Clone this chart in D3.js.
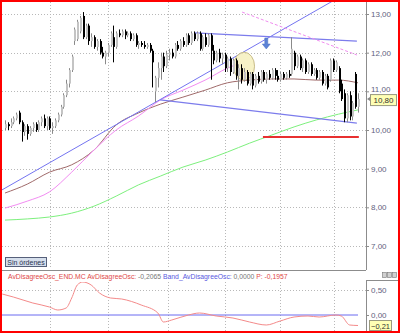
<!DOCTYPE html>
<html lang="es">
<head>
    <meta charset="utf-8">
    <script type="text/javascript" src="https://d3js.org/d3.v7.min.js"></script>
    <title>END.MC - AvDisagreeOsc</title>
    <style>
        html, body { margin: 0; padding: 0; background: #fff; }
        svg { display: block; font-family: "Liberation Sans", Arial, sans-serif; }
    </style>
</head>
<body>
<div id="chart"></div>
<script type="text/javascript">

    /* ---------- DATA ---------- */

    // daily candles (index 0 = first visible session)
    const opens = [
        10.05,10.15,10.10,10.20,10.30,10.45,10.20,9.95,10.10,9.90,
        10.05,10.15,10.00,10.20,10.30,10.10,10.30,10.05,10.10,10.25,
        10.40,10.60,10.90,11.20,11.55,12.30,12.35,12.55,12.95,12.40,
        12.70,12.30,12.40,12.15,12.30,12.00,11.90,12.00,12.20,12.40,
        12.15,12.50,12.45,12.55,12.45,12.50,12.35,12.45,12.20,12.25,
        12.20,12.15,12.20,12.05,11.00,11.35,11.60,11.90,11.65,11.95,
        12.00,11.90,12.20,12.10,12.30,12.20,12.45,12.25,12.50,12.35,
        12.50,12.10,12.40,12.20,12.45,12.05,11.80,12.00,11.85,11.95,
        11.60,11.85,11.50,11.80,11.40,11.60,11.30,11.50,11.20,11.45,
        11.15,11.40,11.25,11.50,11.30,11.45,11.35,11.55,11.40,11.30,
        11.45,11.35,11.45,11.45,12.00,11.65,11.90,11.60,11.80,11.50,
        11.70,11.45,11.55,11.35,11.50,11.20,11.40,11.30,11.80,11.55,
        11.60,11.20,10.95,10.30,10.90,10.35,11.45,10.60];
    const highs = [
        10.25,10.20,10.30,10.35,10.45,10.50,10.25,10.15,10.15,10.10,
        10.20,10.20,10.25,10.35,10.40,10.35,10.35,10.20,10.30,10.45,
        10.65,10.95,11.30,11.60,11.95,12.65,12.85,12.95,13.05,12.75,
        12.75,12.50,12.45,12.35,12.35,12.15,12.05,12.25,12.55,12.70,
        12.55,12.60,12.60,12.60,12.55,12.55,12.50,12.50,12.30,12.30,
        12.30,12.25,12.25,12.10,11.40,11.75,12.00,12.00,12.05,12.10,
        12.10,12.25,12.30,12.35,12.40,12.50,12.50,12.55,12.55,12.55,
        12.55,12.45,12.50,12.50,12.50,12.20,12.05,12.10,12.00,12.00,
        11.90,11.90,11.85,11.85,11.70,11.70,11.60,11.55,11.50,11.50,
        11.45,11.50,11.55,11.55,11.50,11.55,11.60,11.60,11.55,11.50,
        11.50,11.50,11.55,12.40,12.05,11.95,11.95,11.85,11.85,11.75,
        11.75,11.60,11.60,11.55,11.55,11.45,11.45,11.85,11.85,11.80,
        11.65,11.30,11.05,10.95,11.00,10.75,11.50,10.95];
    const lows = [
        10.00,10.00,10.05,10.15,10.25,10.15,9.70,9.85,9.75,9.85,
        9.95,9.95,9.95,10.10,10.05,10.00,10.00,9.90,10.05,10.20,
        10.35,10.55,10.85,11.10,11.50,12.20,12.30,12.50,12.35,12.35,
        12.20,12.15,12.10,12.05,11.95,11.85,11.70,11.90,12.15,11.75,
        12.10,12.40,12.40,12.35,12.40,12.30,12.30,12.15,12.10,12.15,
        12.10,12.10,12.00,11.10,10.72,11.10,11.30,11.50,11.60,11.80,
        11.85,11.85,12.05,12.05,12.15,12.15,12.20,12.20,12.30,12.30,
        12.05,12.05,12.15,12.15,11.30,11.70,11.75,11.75,11.70,11.50,
        11.50,11.40,11.45,11.30,11.05,11.20,11.25,11.15,11.15,11.05,
        11.10,11.20,11.20,11.25,11.20,11.30,11.30,11.30,11.25,11.25,
        11.30,11.30,11.35,11.40,11.55,11.60,11.55,11.50,11.45,11.45,
        11.40,11.40,11.30,11.30,11.15,11.15,11.05,11.25,11.50,11.50,
        10.95,10.75,10.20,10.20,10.25,10.25,10.55,10.45];
    const closes = [
        10.15,10.10,10.20,10.30,10.40,10.20,9.95,10.10,9.90,10.05,
        10.15,10.00,10.20,10.30,10.10,10.30,10.05,10.10,10.25,10.40,
        10.60,10.90,11.20,11.55,11.90,12.60,12.80,12.90,12.40,12.70,
        12.30,12.40,12.15,12.30,12.00,11.90,12.00,12.20,12.50,12.15,
        12.50,12.45,12.55,12.45,12.50,12.35,12.45,12.20,12.25,12.20,
        12.15,12.20,12.05,11.75,11.35,11.60,11.90,11.65,11.95,12.00,
        11.90,12.20,12.10,12.30,12.20,12.45,12.25,12.50,12.35,12.50,
        12.10,12.40,12.20,12.45,12.05,11.80,12.00,11.85,11.95,11.60,
        11.85,11.50,11.80,11.40,11.60,11.30,11.50,11.20,11.45,11.15,
        11.40,11.25,11.50,11.30,11.45,11.35,11.55,11.40,11.30,11.45,
        11.35,11.45,11.40,12.10,11.65,11.90,11.60,11.80,11.50,11.70,
        11.45,11.55,11.35,11.50,11.20,11.40,11.10,11.80,11.55,11.75,
        11.00,10.80,10.30,10.90,10.35,10.70,10.60,10.80];

    // moving averages, sampled at these candle indexes
    const maIdx   = [0, 8, 16, 24, 32, 40, 48, 56, 64, 72, 80, 88, 96, 104, 112, 120, 127];
    const brownMA = [8.37, 8.60, 8.91, 9.10, 9.48, 10.13, 10.44, 10.67, 10.85, 11.03, 11.22, 11.29, 11.32, 11.32, 11.29, 11.29, 11.22];
    const greenMA = [7.67, 7.70, 7.75, 7.85, 8.03, 8.29, 8.58, 8.81, 9.04, 9.22, 9.43, 9.66, 9.87, 10.08, 10.26, 10.41, 10.52];
    const pinkIdx = [0, 8, 16, 24, 32, 40, 48, 56, 64, 72, 80, 84];
    const pinkMA  = [7.98, 8.16, 8.40, 8.91, 9.48, 10.00, 10.36, 10.78, 11.03, 11.29, 11.60, 11.71];

    // drawn trend lines: [index, price] pairs
    const trendUp      = [[-1.1, 8.45], [118, 13.34]];
    const channelTop   = [[68.3, 12.51], [126.6, 12.30]];
    const channelBot   = [[55.8, 10.78], [126.6, 10.18]];
    const resistDashed = [[85.3, 13.05], [126.6, 11.94]];
    const supportRed   = [[92.8, 9.82], [127.3, 9.82]];

    // annotations
    const circleAt = [86, 11.65];
    const arrowAt  = [94, 12.38];

    // month separators (candle index) and price ticks
    const gridIdx    = [16.2, 37, 58.6, 79.1, 98.8, 118.3];
    const priceTicks = [7, 8, 9, 10, 11, 12, 13];
    const oscTicks   = [0, 0.5];

    // AvDisagreeOsc
    const oscIdx = [-1, 3, 10, 16, 19, 22, 24, 26, 28, 31, 34, 38, 42, 49, 55, 57, 60, 66, 70, 76,
                    82, 88, 94, 99, 104, 109, 113, 119, 121, 124, 127];
    const oscVal = [0.42, 0.36, 0.24, 0.16, 0.10, 0.14, 0.34, 0.60, 0.66, 0.60, 0.44, 0.34, 0.32, 0.20, 0.04, -0.14, -0.10, 0.0, 0.04, -0.02,
                    -0.06, -0.14, -0.20, -0.12, -0.04, -0.02, -0.04, 0.0, -0.02, -0.20, -0.21];
    const oscBand = 0;

    /* ---------- SETUP ---------- */

    const W = 400, H = 333;
    const plotRight = 366;      // x of the price axis line
    const mainTop = 2, mainBottom = 269;
    const oscTop = 282, oscBottom = 331;

    const svg = d3.select("#chart")
        .append("svg")
            .attr("width", W)
            .attr("height", H)
            .style("background", "#fff");

    const x = d3.scaleLinear().domain([0, closes.length - 1]).range([5, 358]);
    const y = d3.scaleLinear().domain([7, 13]).range([246, 14]);
    const yOsc = d3.scaleLinear().domain([0, 0.5]).range([315, 290]);

    const fmt = d => d3.format(".2f")(d).replace(".", ",");

    svg.append("clipPath").attr("id", "clipMain")
        .append("rect").attr("x", 2).attr("y", mainTop).attr("width", plotRight - 2).attr("height", mainBottom - mainTop);
    svg.append("clipPath").attr("id", "clipOsc")
        .append("rect").attr("x", 2).attr("y", oscTop).attr("width", plotRight - 2).attr("height", oscBottom - oscTop);

    /* ---------- GRID ---------- */

    const grid = svg.append("g").attr("stroke", "#b8b8b8").attr("stroke-dasharray", "1,2");
    grid.selectAll(".hg").data(priceTicks).join("line")
        .attr("x1", 2).attr("x2", plotRight)
        .attr("y1", d => Math.round(y(d)) + 0.5).attr("y2", d => Math.round(y(d)) + 0.5);
    grid.selectAll(".vg").data(gridIdx).join("line")
        .attr("x1", d => Math.round(x(d)) + 0.5).attr("x2", d => Math.round(x(d)) + 0.5)
        .attr("y1", mainTop).attr("y2", mainBottom);
    grid.selectAll(".vg2").data(gridIdx).join("line")
        .attr("x1", d => Math.round(x(d)) + 0.5).attr("x2", d => Math.round(x(d)) + 0.5)
        .attr("y1", oscTop).attr("y2", oscBottom);
    grid.append("line")
        .attr("x1", 2).attr("x2", plotRight)
        .attr("y1", Math.round(yOsc(0.5)) + 0.5).attr("y2", Math.round(yOsc(0.5)) + 0.5);

    /* ---------- MAIN PANEL ---------- */

    const main = svg.append("g").attr("clip-path", "url(#clipMain)");

    const maLine = idx => d3.line()
        .x((d, i) => x(idx[i]))
        .y(d => y(d))
        .curve(d3.curveMonotoneX);

    main.append("path").datum(greenMA).attr("d", maLine(maIdx))
        .attr("fill", "none").attr("stroke", "#7df07d").attr("stroke-width", 1);
    main.append("path").datum(brownMA).attr("d", maLine(maIdx))
        .attr("fill", "none").attr("stroke", "#a06a6a").attr("stroke-width", 1);
    main.append("path").datum(pinkMA).attr("d", maLine(pinkIdx))
        .attr("fill", "none").attr("stroke", "#f28cf2").attr("stroke-width", 1);

    const seg = d3.line().x(d => x(d[0])).y(d => y(d[1]));
    main.append("path").datum(trendUp).attr("d", seg)
        .attr("fill", "none").attr("stroke", "#7474f0").attr("stroke-width", 1);
    main.append("path").datum(channelTop).attr("d", seg)
        .attr("fill", "none").attr("stroke", "#7c7cec").attr("stroke-width", 1.2);
    main.append("path").datum(channelBot).attr("d", seg)
        .attr("fill", "none").attr("stroke", "#7c7cec").attr("stroke-width", 1.2);
    main.append("path").datum(resistDashed).attr("d", seg)
        .attr("fill", "none").attr("stroke", "#f08cf0").attr("stroke-width", 1).attr("stroke-dasharray", "3,2");
    main.append("path").datum(supportRed).attr("d", seg)
        .attr("fill", "none").attr("stroke", "#e83030").attr("stroke-width", 2);

    // highlighted zone
    main.append("ellipse")
        .attr("cx", x(circleAt[0])).attr("cy", y(circleAt[1]))
        .attr("rx", 10.5).attr("ry", 14)
        .attr("fill", "#f4eeb4").attr("fill-opacity", 0.75)
        .attr("stroke", "#c8bc8a").attr("stroke-width", 1);

    // candles
    const candles = d3.range(closes.length).map(i => ({ i, o: opens[i], h: highs[i], l: lows[i], c: closes[i] }));
    const cg = main.append("g");
    cg.selectAll(".wick").data(candles).join("line")
        .attr("x1", d => Math.round(x(d.i)) + 0.5).attr("x2", d => Math.round(x(d.i)) + 0.5)
        .attr("y1", d => y(d.h)).attr("y2", d => y(d.l))
        .attr("stroke", d => d.c >= d.o ? "#8a8a8a" : "#000");
    cg.selectAll(".body").data(candles).join("rect")
        .attr("x", d => Math.round(x(d.i)))
        .attr("width", 2)
        .attr("y", d => y(Math.max(d.o, d.c)))
        .attr("height", d => Math.max(1, Math.abs(y(d.o) - y(d.c))))
        .attr("fill", d => d.c >= d.o ? "#c4c4c4" : "#000");

    // blue arrow
    const ax = x(arrowAt[0]), ay = y(arrowAt[1]);
    main.append("path")
        .attr("d", `M${ax - 1.5},${ay} h3 v6 h2.5 l-4,5 l-4,-5 h2.5 z`)
        .attr("fill", "#5c82d6").attr("stroke", "#4a6ec0").attr("stroke-width", 0.5);

    /* ---------- PRICE AXIS ---------- */

    svg.append("line")
        .attr("x1", plotRight + 0.5).attr("x2", plotRight + 0.5)
        .attr("y1", 0).attr("y2", 270)
        .attr("stroke", "#8c8c8c");

    const axisMain = svg.append("g")
        .attr("transform", `translate(${plotRight},0)`)
        .call(d3.axisRight(y).tickValues(priceTicks).tickSize(3).tickPadding(2).tickFormat(fmt));
    axisMain.select(".domain").remove();
    axisMain.selectAll("line").attr("stroke", "#8c8c8c");
    axisMain.selectAll("text").attr("fill", "#62627e").style("font-size", "8px");
    // the 11,00 label sits just above the last-price box
    axisMain.selectAll("text").filter(d => d === 11).attr("dy", "0.05em");

    // last price box
    const lastY = y(closes[closes.length - 1]);
    svg.append("path")
        .attr("d", `M367,${lastY} l3,-2 v4 z`).attr("fill", "#888");
    svg.append("rect")
        .attr("x", 370.5).attr("y", lastY - 4.5).attr("width", 26).attr("height", 11)
        .attr("fill", "#ffffb4").attr("stroke", "#9a9a80");
    svg.append("text")
        .attr("x", 383.5).attr("y", lastY + 4)
        .attr("text-anchor", "middle").attr("fill", "#333").style("font-size", "8px")
        .text(fmt(closes[closes.length - 1]));

    // "Sin órdenes" button
    svg.append("rect")
        .attr("x", 5.5).attr("y", 257.5).attr("width", 41).attr("height", 9)
        .attr("fill", "#d6dfec").attr("stroke", "#56607a");
    svg.append("text")
        .attr("x", 26).attr("y", 265)
        .attr("text-anchor", "middle").attr("fill", "#2a3350").style("font-size", "7px")
        .text("Sin órdenes");

    // panel divider
    svg.append("line")
        .attr("x1", 0).attr("x2", plotRight).attr("y1", 270.5).attr("y2", 270.5)
        .attr("stroke", "#8c8c8c");

    /* ---------- OSCILLATOR PANEL ---------- */

    const osc = svg.append("g").attr("clip-path", "url(#clipOsc)");
    osc.append("line")
        .attr("x1", 2).attr("x2", x(closes.length - 1))
        .attr("y1", yOsc(oscBand)).attr("y2", yOsc(oscBand))
        .attr("stroke", "#6a6af0").attr("stroke-width", 1);
    osc.append("path")
        .datum(oscVal)
        .attr("d", d3.line().x((d, i) => x(oscIdx[i])).y(d => yOsc(d)).curve(d3.curveMonotoneX))
        .attr("fill", "none").attr("stroke", "#f48a8a").attr("stroke-width", 1);

    // oscillator title
    const title = svg.append("text").attr("x", 8).attr("y", 279).style("font-size", "6.8px");
    title.append("tspan").attr("fill", "#e04848").text("AvDisagreeOsc_END.MC  AvDisagreeOsc: ");
    title.append("tspan").attr("fill", "#777").text("-0,2065  ");
    title.append("tspan").attr("fill", "#5858e0").text("Band_AvDisagreeOsc: ");
    title.append("tspan").attr("fill", "#777").text("0,0000  ");
    title.append("tspan").attr("fill", "#e04848").text("P: -0,1957");

    // oscillator axis
    svg.append("line")
        .attr("x1", plotRight + 0.5).attr("x2", plotRight + 0.5).attr("y1", 280).attr("y2", H)
        .attr("stroke", "#8c8c8c");
    svg.append("line")
        .attr("x1", plotRight).attr("x2", W).attr("y1", 280.5).attr("y2", 280.5)
        .attr("stroke", "#8c8c8c");
    const axisOsc = svg.append("g")
        .attr("transform", `translate(${plotRight},0)`)
        .call(d3.axisRight(yOsc).tickValues(oscTicks).tickSize(3).tickPadding(2).tickFormat(fmt));
    axisOsc.select(".domain").remove();
    axisOsc.selectAll("line").attr("stroke", "#8c8c8c");
    axisOsc.selectAll("text").attr("fill", "#62627e").style("font-size", "8px");

    // last oscillator value box
    const lastOsc = oscVal[oscVal.length - 1];
    svg.append("rect")
        .attr("x", 369.5).attr("y", 320.5).attr("width", 22).attr("height", 10)
        .attr("fill", "#ffffb4").attr("stroke", "#9a9a80");
    svg.append("text")
        .attr("x", 380.5).attr("y", 328.5)
        .attr("text-anchor", "middle").attr("fill", "#333").style("font-size", "7.5px")
        .text(fmt(lastOsc));

    // small window buttons
    svg.selectAll(".winbtn").data([0, 1, 2]).join("rect")
        .attr("x", d => 382.5 + d * 5).attr("y", 272.5).attr("width", 4).attr("height", 5)
        .attr("fill", "#d0d0d0").attr("stroke", "#777").attr("stroke-width", 0.6);

    /* ---------- FRAME ---------- */

    svg.append("rect")
        .attr("x", 1).attr("y", 1).attr("width", W - 2).attr("height", H - 2)
        .attr("fill", "none").attr("stroke", "#ff0000").attr("stroke-width", 2);

</script>
</body>
</html>
